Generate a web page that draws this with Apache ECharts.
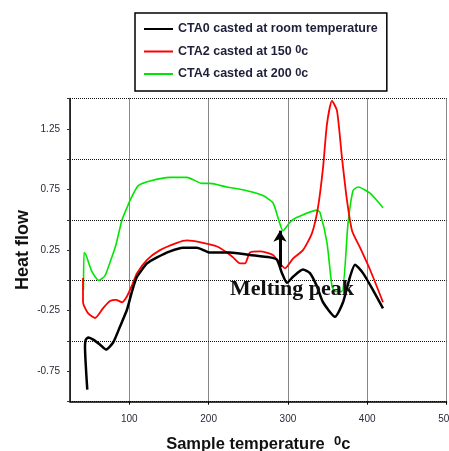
<!DOCTYPE html>
<html>
<head>
<meta charset="utf-8">
<script src="https://cdn.jsdelivr.net/npm/echarts@6/dist/echarts.min.js"></script>
<style>
  html, body { margin: 0; padding: 0; background: #fff; }
  #chart { width: 449px; height: 451px; }
</style>
</head>
<body>
<div id="chart"></div>
<script>
// series names
const names = [
  "CTA0 casted at room temperature",
  "CTA2 casted at 150 0c",
  "CTA4 casted at 200 0c",
];

// CTA0 (black)
const cta0Temp = [47.0, 44.1, 45.0, 48.3, 55.0, 63.1, 70.6, 79.8, 88.3, 97.1, 103.4, 109.7, 122.3, 134.9, 151.3, 167.7, 185.3, 201.7, 226.9, 252.2, 277.4, 286.2, 292.5, 298.8, 306.4, 319.0, 327.8, 336.7, 344.3, 359.4, 369.5, 378.3, 384.6, 394.7, 407.3, 419.9];
const cta0Heat = [-0.90, -0.54, -0.49, -0.47, -0.49, -0.53, -0.57, -0.51, -0.38, -0.24, -0.09, 0.03, 0.14, 0.19, 0.24, 0.27, 0.27, 0.23, 0.23, 0.21, 0.19, 0.17, 0.06, -0.02, 0.03, 0.09, 0.06, -0.05, -0.18, -0.30, -0.18, 0.03, 0.13, 0.06, -0.08, -0.23];

// CTA2 (red)
const cta2Temp = [41.6, 41.6, 47.9, 56.7, 66.8, 75.7, 83.2, 90.8, 97.1, 103.4, 109.7, 122.3, 138.7, 160.1, 172.7, 192.9, 210.6, 223.2, 230.8, 239.6, 245.9, 252.2, 264.8, 281.2, 290.0, 296.4, 306.4, 319.0, 330.4, 337.9, 344.3, 349.3, 355.6, 361.9, 368.2, 374.5, 380.9, 391.0, 403.5, 419.9];
const cta2Heat = [0.02, -0.18, -0.27, -0.31, -0.23, -0.17, -0.16, -0.18, -0.13, -0.04, 0.06, 0.17, 0.25, 0.31, 0.33, 0.31, 0.28, 0.23, 0.19, 0.14, 0.14, 0.23, 0.24, 0.21, 0.14, 0.10, 0.18, 0.25, 0.39, 0.60, 0.93, 1.29, 1.48, 1.40, 1.01, 0.66, 0.41, 0.27, 0.09, -0.18];

// CTA4 (green)
const cta4Temp = [42.2, 42.9, 45.4, 53.0, 61.8, 69.4, 75.7, 83.0, 90.8, 97.1, 100.9, 111.0, 126.0, 151.3, 172.7, 191.6, 201.7, 223.1, 248.3, 268.5, 281.1, 287.4, 293.8, 302.6, 311.5, 336.7, 340.5, 349.3, 355.6, 359.4, 368.2, 375.8, 382.1, 388.4, 403.5, 419.9];
const cta4Heat = [-0.08, 0.23, 0.21, 0.07, 0.0, 0.04, 0.15, 0.29, 0.50, 0.60, 0.66, 0.78, 0.82, 0.85, 0.85, 0.80, 0.80, 0.77, 0.74, 0.70, 0.64, 0.52, 0.41, 0.48, 0.52, 0.58, 0.56, 0.31, -0.05, -0.09, -0.09, 0.47, 0.74, 0.77, 0.72, 0.60];

// annotation
const noteText = "Melting peak";
const notePos = [227, -0.074];
const arrowFrom = [290, 0.11];
const arrowTo = [290, 0.41];

const pairs = (xs, ys) => xs.map((x, i) => [x, ys[i]]);

const font = "Liberation Sans, Arial, sans-serif";
const labelColor = "#2a2a3a";
const gridStyle = { color: "#111", width: 1, type: [1, 1] };

const chart = echarts.init(document.getElementById("chart"));

chart.setOption({
  animation: false,
  backgroundColor: "#fff",
  textStyle: { fontFamily: font },
  grid: { left: 70, right: 2.5, top: 98.5, bottom: 49.3, outerBoundsMode: "none", containLabel: false },
  legend: {
    orient: "vertical",
    left: 135,
    top: 13,
    padding: [9, 9, 10, 8],
    itemWidth: 29,
    itemHeight: 14,
    itemGap: 8.5,
    borderColor: "#000",
    borderWidth: 1.5,
    backgroundColor: "#fff",
    selectedMode: false,
    itemStyle: { opacity: 0 },
    formatter: (name) => name.replace(/ 0c$/, " {sup|0}c"),
    textStyle: {
      fontFamily: font,
      fontSize: 12.5,
      fontWeight: "bold",
      color: "#1f1f3a",
      lineHeight: 14,
      rich: {
        sup: { fontSize: 11, fontWeight: "bold", color: "#1f1f3a", lineHeight: 5, verticalAlign: "top" },
      },
    },
  },
  xAxis: {
    type: "value",
    min: 25.2,
    max: 500,
    splitNumber: 5,
    name: "Sample temperature  {sup|0}c",
    nameLocation: "middle",
    nameGap: 33,
    nameTextStyle: {
      fontFamily: font,
      fontSize: 16.5,
      fontWeight: "bold",
      color: "#111",
      lineHeight: 20,
      rich: {
        sup: { fontSize: 13, fontWeight: "bold", color: "#111", lineHeight: 6, verticalAlign: "top" },
      },
    },
    axisLine: { show: true, onZero: false, lineStyle: { color: "#000", width: 1.5 } },
    axisTick: { show: true, length: 3, lineStyle: { color: "#000" } },
    axisLabel: { showMinLabel: false, fontSize: 10, color: labelColor, margin: 13 },
    splitLine: { show: true, lineStyle: gridStyle },
  },
  yAxis: [
    {
      type: "value",
      min: -1,
      max: 1.5,
      interval: 0.5,
      position: "left",
      name: "Heat flow",
      nameLocation: "middle",
      nameGap: 38,
      nameTextStyle: { fontFamily: font, fontSize: 18, fontWeight: "bold", color: "#111" },
      axisLine: { show: true, onZero: false, lineStyle: { color: "#000", width: 1.5 } },
      axisTick: { show: false },
      axisLabel: { show: false },
      splitLine: { show: true, lineStyle: gridStyle },
    },
    {
      type: "value",
      min: -1,
      max: 1.5,
      interval: 0.25,
      position: "left",
      axisLine: { show: false, onZero: false },
      axisTick: { show: true, length: 3, lineStyle: { color: "#333" } },
      axisLabel: {
        fontSize: 10,
        color: labelColor,
        margin: 10,
        formatter: (v) => (Math.round(v * 4) % 2 !== 0 ? v.toFixed(2) : ""),
      },
      splitLine: { show: false },
    },
  ],
  series: [
    {
      name: names[0],
      type: "line",
      yAxisIndex: 0,
      data: pairs(cta0Temp, cta0Heat),
      symbol: "none",
      smooth: 0.2,
      lineStyle: { color: "#000", width: 2.5 },
      itemStyle: { color: "#000" },
      z: 3,
      markLine: {
        silent: true,
        symbol: ["none", "arrow"],
        symbolSize: [10, 11],
        label: { show: false },
        lineStyle: { color: "#000", width: 3, type: "solid" },
        data: [[{ coord: arrowFrom }, { coord: arrowTo }]],
      },
      markPoint: {
        silent: true,
        symbol: "circle",
        symbolSize: 0,
        data: [{ coord: notePos }],
        label: {
          show: true,
          position: "right",
          distance: 0,
          formatter: noteText,
          fontFamily: "Liberation Serif, Times New Roman, serif",
          fontWeight: "bold",
          fontSize: 22,
          color: "#111",
        },
      },
    },
    {
      name: names[1],
      type: "line",
      yAxisIndex: 0,
      data: pairs(cta2Temp, cta2Heat),
      symbol: "none",
      smooth: 0.2,
      lineStyle: { color: "#ff0000", width: 1.8 },
      itemStyle: { color: "#ff0000" },
      z: 2,
    },
    {
      name: names[2],
      type: "line",
      yAxisIndex: 0,
      data: pairs(cta4Temp, cta4Heat),
      symbol: "none",
      smooth: 0.2,
      lineStyle: { color: "#00e600", width: 1.6 },
      itemStyle: { color: "#00e600" },
      z: 1,
    },
  ],
});
</script>
</body>
</html>
